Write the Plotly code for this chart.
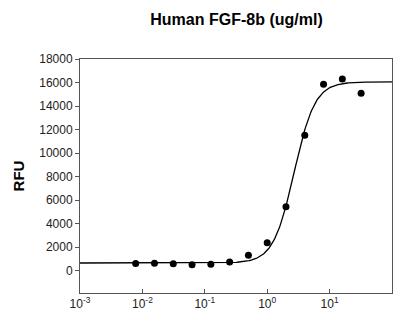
import numpy as np
import plotly.graph_objects as go

conc = [0.0078, 0.0156, 0.03125, 0.0625, 0.125, 0.25, 0.5, 1, 2, 4, 8, 16, 32]
rfu = [600, 620, 580, 500, 540, 740, 1310, 2380, 5440, 11510, 15850, 16300, 15080]

# 4-parameter logistic fit parameters
fit_bottom = 650
fit_top = 16050
fit_ec50 = 2.7
fit_hill = 2.6

xfit = np.logspace(-3, 2, 400)
yfit = fit_bottom + (fit_top - fit_bottom) / (1 + (fit_ec50 / xfit) ** fit_hill)

xtick_vals = [0.001, 0.01, 0.1, 1, 10, 100]
xtick_text = ["10<sup>-3</sup>", "10<sup>-2</sup>", "10<sup>-1</sup>", "10<sup>0</sup>", "10<sup>1</sup>", "10<sup>2</sup>"]
ytick_vals = [0, 2000, 4000, 6000, 8000, 10000, 12000, 14000, 16000, 18000]
ytick_text = [str(v) for v in ytick_vals]

# page body has an 8px margin, so the figure is shrunk by 8px to fit the window
W, H = 393, 312

fig = go.Figure()
fig.add_trace(go.Scatter(x=xfit, y=yfit, mode="lines", line=dict(color="black", width=1.3),
                         hoverinfo="skip", showlegend=False))
fig.add_trace(go.Scatter(x=conc, y=rfu, mode="markers",
                         marker=dict(color="black", size=7), showlegend=False))

fig.update_layout(
    width=W, height=H,
    margin=dict(l=72, r=9, t=51, b=27),
    paper_bgcolor="white", plot_bgcolor="white",
    font=dict(family="Arial, Liberation Sans, sans-serif", color="#222", size=12),
    title=dict(text="<b>Human FGF-8b (ug/ml)</b>", x=228.5 / W, xanchor="center",
               y=1 - 11 / H, yanchor="middle", font=dict(size=16, color="black")),
    xaxis=dict(type="log", range=[-3, 2], tickvals=xtick_vals, ticktext=xtick_text,
               showline=True, linecolor="#555", linewidth=1, mirror=True, automargin=False,
               ticks="inside", ticklen=4, tickcolor="#555", showgrid=False, zeroline=False,
               tickfont=dict(size=12)),
    yaxis=dict(range=[-1900, 18000], tickvals=ytick_vals, ticktext=ytick_text,
               showline=True, linecolor="#555", linewidth=1, mirror=True, automargin=False,
               ticks="outside", ticklen=4, tickcolor="#555", showgrid=False, zeroline=False,
               title=dict(text="<b>RFU</b>", font=dict(size=15, color="black"), standoff=10),
               tickfont=dict(size=12)),
)

fig.write_html("out.html")
